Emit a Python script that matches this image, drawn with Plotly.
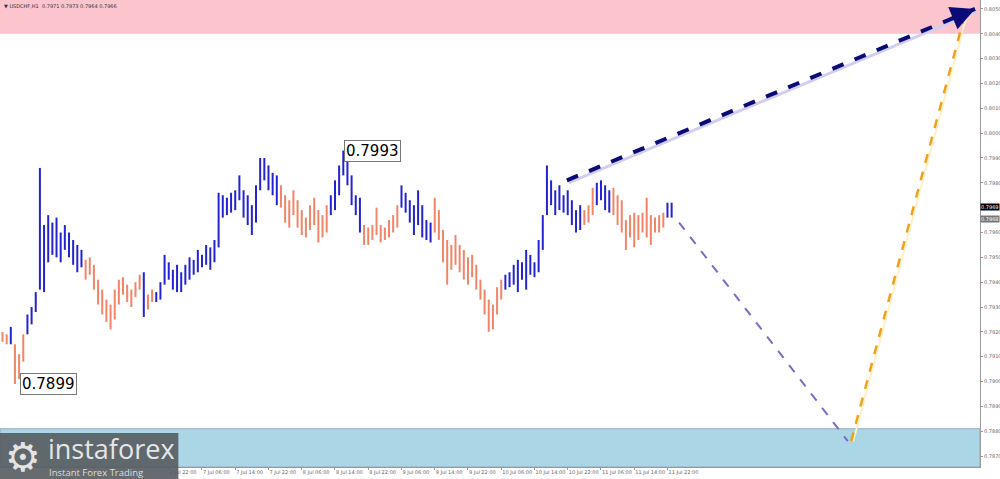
import plotly.graph_objects as go

# USDCHF H1 bars: high / low of every bar
bar_high = [0.7920, 0.7919, 0.7922, 0.7915, 0.7911, 0.7919, 0.7927, 0.7930, 0.7936, 0.7986,
            0.7963, 0.7967, 0.7964, 0.7966, 0.7960, 0.7963, 0.7960, 0.7957, 0.7955, 0.7953,
            0.7949, 0.7950, 0.7947, 0.7941, 0.7937, 0.7933, 0.7931, 0.7937, 0.7941, 0.7942,
            0.7939, 0.7937, 0.7940, 0.7943, 0.7944, 0.7935, 0.7937, 0.7936, 0.7940, 0.7951,
            0.7948, 0.7945, 0.7947, 0.7944, 0.7947, 0.7950, 0.7949, 0.7953, 0.7951, 0.7955,
            0.7954, 0.7957, 0.7976, 0.7975, 0.7974, 0.7976, 0.7977, 0.7983, 0.7977, 0.7975,
            0.7971, 0.7979, 0.7990, 0.7990, 0.7987, 0.7984, 0.7983, 0.7979, 0.7975, 0.7973,
            0.7977, 0.7973, 0.7969, 0.7966, 0.7971, 0.7974, 0.7969, 0.7967, 0.7971, 0.7975,
            0.7981, 0.7987, 0.7993, 0.7991, 0.7983, 0.7975, 0.7974, 0.7963, 0.7962, 0.7963,
            0.7970, 0.7963, 0.7962, 0.7965, 0.7967, 0.7971, 0.7979, 0.7976, 0.7973, 0.7971,
            0.7977, 0.7971, 0.7965, 0.7964, 0.7974, 0.7969, 0.7961, 0.7957, 0.7955, 0.7959,
            0.7955, 0.7953, 0.7950, 0.7951, 0.7947, 0.7941, 0.7937, 0.7933, 0.7931, 0.7938,
            0.7941, 0.7943, 0.7944, 0.7947, 0.7949, 0.7948, 0.7953, 0.7951, 0.7948, 0.7957,
            0.7967, 0.7987, 0.7981, 0.7977, 0.7979, 0.7975, 0.7977, 0.7973, 0.7969, 0.7971,
            0.7969, 0.7971, 0.7978, 0.7980, 0.7981, 0.7979, 0.7977, 0.7978, 0.7975, 0.7973,
            0.7965, 0.7967, 0.7968, 0.7967, 0.7968, 0.7974, 0.7967, 0.7966, 0.7967, 0.7968,
            0.7972, 0.7972]
bar_low = [0.7916, 0.7915, 0.7915, 0.7899, 0.7901, 0.7908, 0.7919, 0.7923, 0.7928, 0.7937,
           0.7936, 0.7948, 0.7951, 0.7950, 0.7948, 0.7953, 0.7950, 0.7947, 0.7944, 0.7946,
           0.7941, 0.7943, 0.7937, 0.7931, 0.7927, 0.7924, 0.7921, 0.7925, 0.7931, 0.7935,
           0.7932, 0.7930, 0.7934, 0.7937, 0.7926, 0.7929, 0.7932, 0.7932, 0.7933, 0.7939,
           0.7941, 0.7937, 0.7936, 0.7936, 0.7939, 0.7941, 0.7943, 0.7944, 0.7946, 0.7947,
           0.7945, 0.7948, 0.7954, 0.7966, 0.7967, 0.7968, 0.7969, 0.7973, 0.7966, 0.7963,
           0.7959, 0.7964, 0.7977, 0.7981, 0.7977, 0.7975, 0.7971, 0.7970, 0.7964, 0.7962,
           0.7967, 0.7962, 0.7959, 0.7958, 0.7961, 0.7963, 0.7956, 0.7958, 0.7960, 0.7967,
           0.7969, 0.7975, 0.7983, 0.7979, 0.7971, 0.7967, 0.7960, 0.7955, 0.7955, 0.7957,
           0.7959, 0.7956, 0.7957, 0.7958, 0.7960, 0.7962, 0.7970, 0.7968, 0.7964, 0.7959,
           0.7963, 0.7958, 0.7957, 0.7956, 0.7960, 0.7957, 0.7948, 0.7939, 0.7945, 0.7947,
           0.7944, 0.7941, 0.7939, 0.7942, 0.7937, 0.7933, 0.7927, 0.7920, 0.7921, 0.7927,
           0.7933, 0.7937, 0.7938, 0.7939, 0.7936, 0.7941, 0.7937, 0.7943, 0.7942, 0.7944,
           0.7953, 0.7967, 0.7971, 0.7967, 0.7969, 0.7968, 0.7967, 0.7963, 0.7960, 0.7961,
           0.7963, 0.7964, 0.7967, 0.7971, 0.7973, 0.7969, 0.7968, 0.7967, 0.7963, 0.7960,
           0.7953, 0.7958, 0.7954, 0.7957, 0.7960, 0.7958, 0.7955, 0.7960, 0.7960, 0.7962,
           0.7966, 0.7966]

# first bar of each wave piece, colours alternate salmon / blue
wave_start = [0, 2, 3, 6, 20, 34, 35, 37, 67, 79, 87, 96, 104, 121, 140, 143, 147, 160]

# time labels (the earlier ones sit under the logo)
time_ticks = [40, 48, 56, 64, 72, 80, 88, 96, 104, 112, 120, 128, 136, 144, 152, 160]
time_labels = ["4 Jul 22:00", "7 Jul 06:00", "7 Jul 14:00", "7 Jul 22:00", "8 Jul 06:00",
               "8 Jul 14:00", "8 Jul 22:00", "9 Jul 06:00", "9 Jul 14:00", "9 Jul 22:00",
               "10 Jul 06:00", "10 Jul 14:00", "10 Jul 22:00", "11 Jul 06:00", "11 Jul 14:00",
               "11 Jul 22:00"]
# 0.7970 is covered by the price box, so it has no label
price_ticks = [0.7870, 0.7880, 0.7890, 0.7900, 0.7910, 0.7920, 0.7930, 0.7940, 0.7950, 0.7960,
               0.7980, 0.7990, 0.8000, 0.8010, 0.8020, 0.8030, 0.8040, 0.8050]

# target zones
resist_zone = [0.8040, 0.80536]
support_zone = [0.78656, 0.7881]

# forecast paths (bar index, price)
trend_x = [135.8, 234.0]
trend_y = [0.7981, 0.8050]
down_x = [162.8, 203.4]
down_y = [0.7964, 0.7876]
up_x = [204.2, 231.6]
up_y = [0.7876, 0.8048]

# marked extremes
extreme_x = [82.2, 4.3]
extreme_y = [0.7993, 0.7899]

last_bid = 0.7969
last_ask = 0.7968

BLUE = "#2323d0"
SALMON = "#f28468"

bx, by, sx, sy = [], [], [], []
for n in range(len(bar_high)):
    piece = sum(1 for s in wave_start if s <= n) - 1
    if piece % 2:
        bx += [n, n, None]
        by += [bar_low[n], bar_high[n], None]
    else:
        sx += [n, n, None]
        sy += [bar_low[n], bar_high[n], None]

fig = go.Figure()

fig.add_shape(type="rect", xref="paper", x0=0, x1=1, yref="y", y0=resist_zone[0], y1=resist_zone[1],
              fillcolor="#fcc4cd", line_width=0, layer="below")
fig.add_shape(type="rect", xref="paper", x0=0, x1=1, yref="y", y0=support_zone[0], y1=support_zone[1],
              fillcolor="#abd6e6", line=dict(color="#9ab", width=1), layer="below")

fig.add_trace(go.Scatter(x=sx, y=sy, mode="lines", line=dict(color=SALMON, width=2), hoverinfo="skip"))
fig.add_trace(go.Scatter(x=bx, y=by, mode="lines", line=dict(color=BLUE, width=2), hoverinfo="skip"))

# faint shadows under the forecast lines
fig.add_trace(go.Scatter(x=[v + 0.4 for v in trend_x], y=[v - 0.00010 for v in trend_y], mode="lines",
                         line=dict(color="#d2cdf3", width=3), hoverinfo="skip"))
fig.add_trace(go.Scatter(x=[v + 0.5 for v in up_x], y=up_y, mode="lines",
                         line=dict(color="#fdf1c6", width=2), hoverinfo="skip"))

fig.add_trace(go.Scatter(x=trend_x, y=trend_y, mode="lines",
                         line=dict(color="#0b0b78", width=4, dash="dash"), hoverinfo="skip"))
fig.add_trace(go.Scatter(x=down_x, y=down_y, mode="lines",
                         line=dict(color="#7a6bc6", width=2, dash="dash"), hoverinfo="skip"))
fig.add_trace(go.Scatter(x=up_x, y=up_y, mode="lines",
                         line=dict(color="#f0a01c", width=2.5, dash="dash"), hoverinfo="skip"))

# arrow head at the end of the main trend
fig.add_annotation(x=trend_x[1], y=trend_y[1], ax=-24, ay=10, showarrow=True, arrowhead=2,
                   arrowsize=1.2, arrowwidth=4, arrowcolor="#0b0b78", text="")

for xv, yv in zip(extreme_x, extreme_y):
    fig.add_annotation(x=xv, y=yv, text=f"{yv:.4f}", showarrow=False, xanchor="left", yanchor="middle",
                       font=dict(family="DejaVu Sans", size=15, color="black"),
                       bgcolor="white", bordercolor="#777", borderwidth=1, borderpad=1)

fig.add_annotation(xref="paper", x=1.0, y=last_bid + 0.00012, text=f"{last_bid:.4f}", showarrow=False,
                   xanchor="left", yanchor="middle", font=dict(family="DejaVu Sans", size=5, color="white"),
                   bgcolor="black", borderpad=0)
fig.add_annotation(xref="paper", x=1.0, y=last_ask - 0.00024, text=f"{last_ask:.4f}", showarrow=False,
                   xanchor="left", yanchor="middle", font=dict(family="DejaVu Sans", size=5, color="white"),
                   bgcolor="#777", borderpad=0)

fig.add_annotation(xref="paper", yref="paper", x=0.002, y=0.998, xanchor="left", yanchor="top",
                   text="▼ USDCHF,H1  0.7971 0.7973 0.7964 0.7966", showarrow=False,
                   font=dict(family="DejaVu Sans", size=5, color="#333"))

# instaforex logo
fig.add_shape(type="rect", xref="paper", yref="paper", x0=0, x1=0.182, y0=-0.026, y1=0.073,
              fillcolor="rgba(88,94,99,0.92)", line_width=0, layer="above")
fig.add_annotation(xref="paper", yref="paper", x=0.003, y=0.022, xanchor="left", yanchor="middle",
                   text="⚙", showarrow=False, font=dict(family="DejaVu Sans", size=40, color="#e4e4e4"))
fig.add_annotation(xref="paper", yref="paper", x=0.047, y=0.040, xanchor="left", yanchor="middle",
                   text="instaforex", showarrow=False,
                   font=dict(family="Open Sans", size=27, color="#e6e6e6"))
fig.add_annotation(xref="paper", yref="paper", x=0.048, y=-0.012, xanchor="left", yanchor="middle",
                   text="Instant Forex Trading", showarrow=False,
                   font=dict(family="Open Sans", size=9.5, color="#dedede"))

fig.update_layout(
    width=1000, height=479,
    margin=dict(l=0, r=20, t=0, b=12, autoexpand=False),
    paper_bgcolor="white", plot_bgcolor="white",
    showlegend=False,
    xaxis=dict(range=[-0.6, 235.2], tickvals=time_ticks, ticktext=time_labels, tickangle=0,
               ticklabelposition="outside right", ticks="outside", ticklen=2, tickcolor="#999",
               tickfont=dict(family="DejaVu Sans", size=5, color="#666"), automargin=False,
               showgrid=False, zeroline=False, showline=True, linecolor="#999", linewidth=1),
    yaxis=dict(range=[0.78656, 0.80536], side="right", tickvals=price_ticks,
               ticktext=[f"{v:.4f}" for v in price_ticks], ticks="outside", ticklen=2, tickcolor="#999",
               tickfont=dict(family="DejaVu Sans", size=5, color="#666"), automargin=False,
               showgrid=False, zeroline=False, showline=True, mirror=True, linecolor="#999", linewidth=1),
)

fig.write_html("out.html", config={"displayModeBar": False},
               post_script="document.body.style.margin='0';document.body.style.overflow='hidden';")
